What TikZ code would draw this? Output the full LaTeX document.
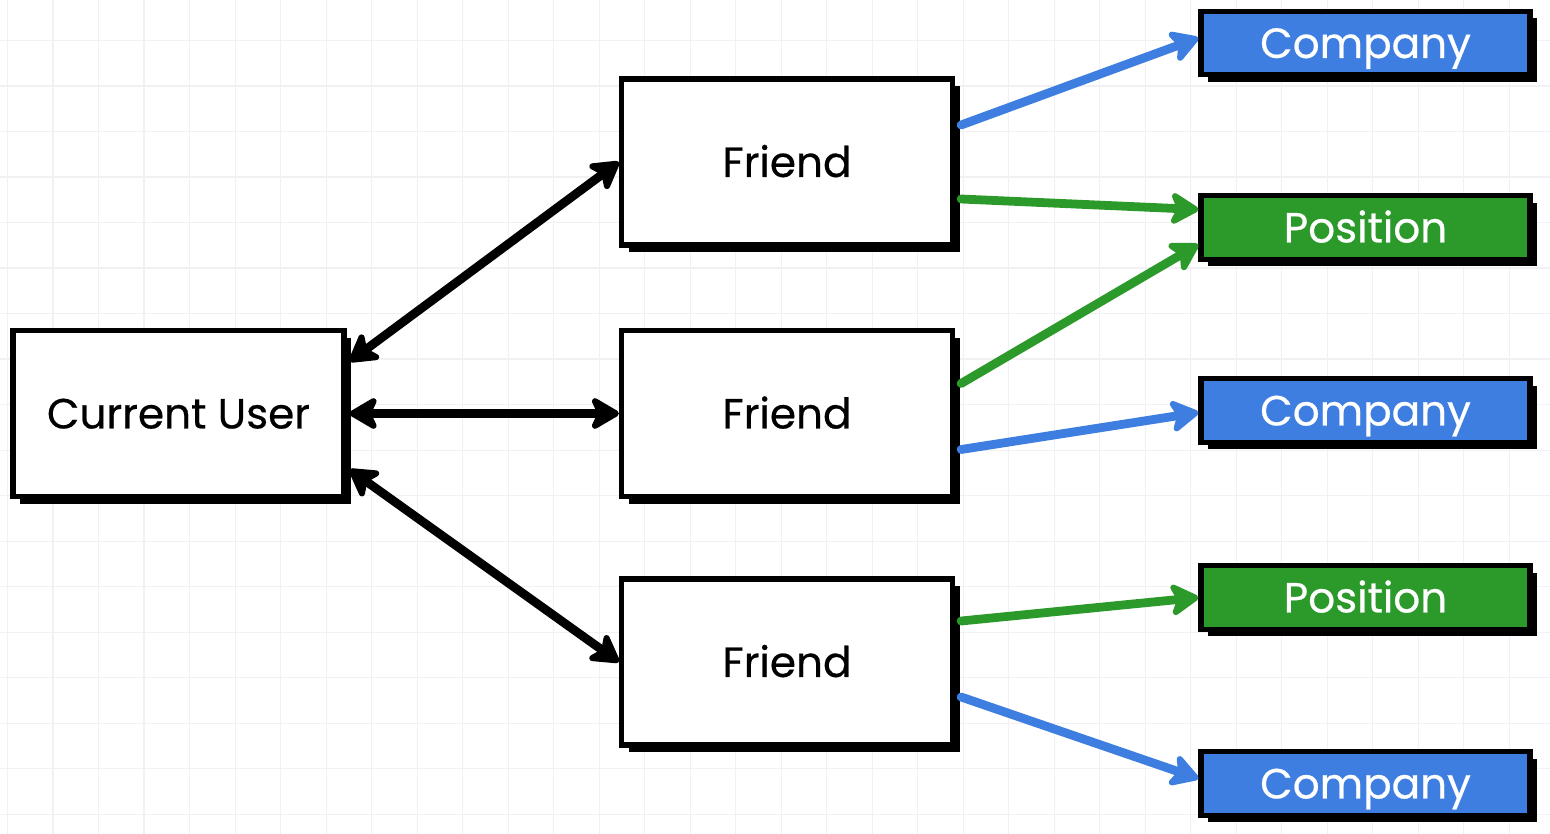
\documentclass[tikz,border=0pt]{standalone}
\usepackage{fontspec}
\setmainfont{Poppins}
\newfontfamily\lblfont{Poppins}[FakeBold=0.5]
\usetikzlibrary{arrows.meta,shadows,calc}
\definecolor{cblue}{HTML}{3D7EE0}
\definecolor{cgreen}{HTML}{2C9A2A}
\definecolor{gridc}{HTML}{F1F1F3}
\tikzset{
  base/.style={draw=black, line width=3pt, rectangle, inner sep=0pt,
    font=\lblfont\fontsize{24}{27}\selectfont, text height=17pt, text depth=0pt,
    drop shadow={shadow xshift=4pt, shadow yshift=-4pt, fill=black, opacity=1}},
  bigbox/.style={base, fill=white, minimum width=6.62cm, minimum height=3.32cm},
  compbox/.style={base, fill=cblue, text=white, minimum width=6.58cm, minimum height=1.27cm},
  posbox/.style={base, fill=cgreen, text=white, minimum width=6.58cm, minimum height=1.27cm},
  tip/.tip={Stealth[length=19pt,width=22pt,inset=5pt,round]},
  link/.style={line width=5pt, tip-tip},
  bluearr/.style={line width=5pt, cblue, line cap=round, -tip},
  greenarr/.style={line width=5pt, cgreen, line cap=round, -tip},
}
\begin{document}
\begin{tikzpicture}[x=0.02cm,y=-0.02cm]
\useasboundingbox (0,0) rectangle (1550,834);
\fill[white] (0,0) rectangle (1550,834);
% grid
\foreach \i in {0,...,33} {
  \draw[gridc, line width=0.8pt] ({7.7+\i*45.5},0) -- ({7.7+\i*45.5},834);
}
\foreach \j in {0,...,18} {
  \draw[gridc, line width=0.8pt] (0,{-4.8+\j*45.5}) -- (1550,{-4.8+\j*45.5});
}
% nodes
\node[bigbox] (cu) at (178.5,413.5) {Current User};
\node[bigbox] (f1) at (787,162) {Friend};
\node[bigbox] (f2) at (787,413.5) {Friend};
\node[bigbox] (f3) at (787,662) {Friend};
\node[compbox] (c1) at (1365.5,43) {Company};
\node[posbox] (p1) at (1365.5,227.5) {Position};
\node[compbox] (c2) at (1365.5,410.5) {Company};
\node[posbox] (p2) at (1365.5,597.5) {Position};
\node[compbox] (c3) at (1365.5,783.5) {Company};
% black links
\draw[link] ($(cu.east)+(3,-52)$) -- (f1.west);
\draw[link] ($(cu.east)+(3,0)$) -- (f2.west);
\draw[link] ($(cu.east)+(3,56)$) -- (f3.west);
% coloured links
\draw[bluearr] ($(f1.east)+(6,-37)$) -- ($(c1.west)+(0,-5)$);
\draw[greenarr] ($(f1.east)+(6,37)$) -- ($(p1.west)+(0,-18)$);
\draw[greenarr] ($(f2.east)+(6,-30)$) -- ($(p1.west)+(0,17)$);
\draw[bluearr] ($(f2.east)+(6,36)$) -- ($(c2.west)+(0,2)$);
\draw[greenarr] ($(f3.east)+(6,-41)$) -- ($(p2.west)+(0,0)$);
\draw[bluearr] ($(f3.east)+(6,35)$) -- ($(c3.west)+(0,-5)$);
\end{tikzpicture}
\end{document}
